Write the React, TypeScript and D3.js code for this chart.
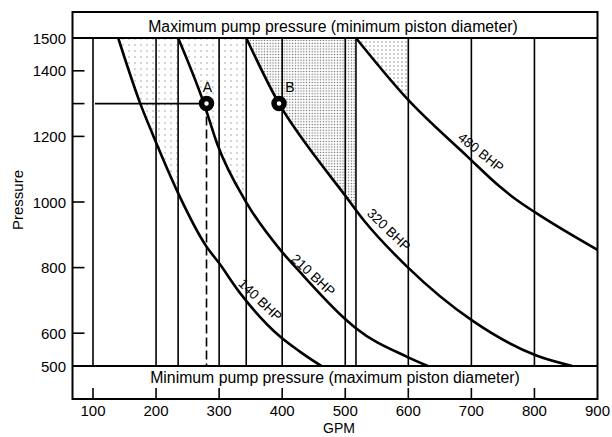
import React from "react";
import * as d3 from "d3";

// pump operating chart: pressure vs flow rate with constant-BHP curves
const gpmTicks = [100, 200, 300, 400, 500, 600, 700, 800, 900];
const pressureTickMarks = [500, 600, 800, 1000, 1200, 1300, 1400, 1500];
const pressureLabels = [500, 600, 800, 1000, 1200, 1400, 1500];
const gridGpm = [100, 200, 235, 300, 343, 400, 500, 517, 600, 700, 800];

const bhp140 = [[140, 1500], [175, 1300], [196, 1200], [209, 1140], [235, 1027], [280, 864], [299, 816], [333, 723], [397, 589], [428, 544], [462, 500]];
const bhp210 = [[235, 1500], [276, 1300], [297, 1177], [344, 996], [397, 854], [428, 787], [499, 645], [517, 615], [598, 528], [631, 500]];
const bhp320 = [[343, 1500], [395, 1300], [452, 1140], [497, 1027], [529, 945], [598, 803], [701, 639], [803, 532], [860, 500]];
const bhp480 = [[517, 1500], [598, 1315], [693, 1140], [745, 1047], [772, 1006], [803, 966], [900, 854]];

const curves = [
  { name: "140 BHP", pts: bhp140, limit: 235, pattern: "sparse", lx: 365, ly: 701, angle: 44 },
  { name: "210 BHP", pts: bhp210, limit: 343, pattern: "sparse", lx: 449, ly: 777, angle: 43 },
  { name: "320 BHP", pts: bhp320, limit: 517, pattern: "dense", lx: 569, ly: 915, angle: 44 },
  { name: "480 BHP", pts: bhp480, limit: 598, pattern: "medium", lx: 715, ly: 1151, angle: 39 },
];

const pointA = { label: "A", gpm: 280, p: 1300 };
const pointB = { label: "B", gpm: 395, p: 1300 };

const W = 612;
const H = 437;
const frameTop = 12;
const frameBottom = 399;
const font = "'Liberation Sans', Arial, Helvetica, sans-serif";

const App: React.FC = () => {
  const x = d3.scaleLinear().domain([67.5, 900]).range([72.5, 597.5]);
  const y = d3.scaleLinear().domain([500, 1500]).range([366, 38]);
  const [x0, x1] = x.range();

  const line = d3
    .line<number[]>()
    .x((d) => x(d[0]))
    .y((d) => y(d[1]))
    .curve(d3.curveMonotoneX);

  const area = d3
    .area<number[]>()
    .x((d) => x(d[0]))
    .y0(y(1500))
    .y1((d) => y(d[1]))
    .curve(d3.curveMonotoneX);

  return (
    <svg
      width={W}
      height={H}
      style={{ position: "absolute", left: 0, top: 0, background: "#fff" }}
      fontFamily={font}
    >
      <defs>
        <pattern id="dense" width="2.8" height="2.8" patternUnits="userSpaceOnUse">
          <circle cx="1.4" cy="1.4" r="0.7" fill="#666" />
        </pattern>
        <pattern id="medium" width="4" height="4" patternUnits="userSpaceOnUse">
          <circle cx="2" cy="2" r="0.65" fill="#777" />
        </pattern>
        <pattern id="sparse" width="6" height="6" patternUnits="userSpaceOnUse">
          <circle cx="3" cy="3" r="0.65" fill="#888" />
        </pattern>
        {curves.map((c, i) => (
          <clipPath id={`clip${i}`} key={i}>
            <rect
              x={x(c.pts[0][0])}
              y={y(1500)}
              width={x(c.limit) - x(c.pts[0][0])}
              height={y(500) - y(1500)}
            />
          </clipPath>
        ))}
      </defs>

      {/* stippled operating zones */}
      {curves.map((c, i) => (
        <path
          key={i}
          d={area(c.pts) || ""}
          fill={`url(#${c.pattern})`}
          clipPath={`url(#clip${i})`}
        />
      ))}

      {/* vertical grid lines */}
      {gridGpm.map((g) => (
        <line key={g} x1={x(g)} x2={x(g)} y1={y(1500)} y2={y(500)} stroke="#000" strokeWidth={1.6} />
      ))}

      {/* frame and bands */}
      <rect x={x0} y={frameTop} width={x1 - x0} height={frameBottom - frameTop} fill="none" stroke="#000" strokeWidth={2} />
      <line x1={x0} x2={x1} y1={y(1500)} y2={y(1500)} stroke="#000" strokeWidth={2} />
      <line x1={x0} x2={x1} y1={y(500)} y2={y(500)} stroke="#000" strokeWidth={2} />
      <text x={333} y={31.5} textAnchor="middle" fontSize={15.8}>
        Maximum pump pressure (minimum piston diameter)
      </text>
      <text x={335} y={383} textAnchor="middle" fontSize={15.8}>
        Minimum pump pressure (maximum piston diameter)
      </text>

      {/* y ticks */}
      {pressureTickMarks.map((p) => (
        <line key={p} x1={x0} x2={x0 + 12} y1={y(p)} y2={y(p)} stroke="#000" strokeWidth={1.6} />
      ))}
      {pressureLabels.map((p) => (
        <text key={p} x={66} y={y(p)} textAnchor="end" dominantBaseline="central" fontSize={15}>
          {p}
        </text>
      ))}
      <text
        transform={`translate(17,200) rotate(-90)`}
        textAnchor="middle"
        dominantBaseline="central"
        fontSize={15}
      >
        Pressure
      </text>

      {/* x ticks */}
      {gpmTicks.slice(0, -1).map((g) => (
        <line key={g} x1={x(g)} x2={x(g)} y1={frameBottom} y2={frameBottom - 11} stroke="#000" strokeWidth={1.6} />
      ))}
      {gpmTicks.map((g) => (
        <text key={g} x={x(g)} y={416} textAnchor="middle" fontSize={15}>
          {g}
        </text>
      ))}
      <text x={339} y={433} textAnchor="middle" fontSize={14}>
        GPM
      </text>

      {/* reference lines for point A */}
      <line x1={x(103)} x2={x(pointA.gpm)} y1={y(pointA.p)} y2={y(pointA.p)} stroke="#000" strokeWidth={1.6} />
      <line
        x1={x(pointA.gpm)}
        x2={x(pointA.gpm)}
        y1={y(pointA.p)}
        y2={y(500)}
        stroke="#000"
        strokeWidth={1.6}
        strokeDasharray="9,4"
      />

      {/* BHP curves */}
      {curves.map((c) => (
        <path key={c.name} d={line(c.pts) || ""} fill="none" stroke="#000" strokeWidth={2.6} />
      ))}
      {curves.map((c) => (
        <text
          key={c.name}
          transform={`translate(${x(c.lx)},${y(c.ly)}) rotate(${c.angle})`}
          textAnchor="middle"
          dominantBaseline="central"
          fontSize={13.5}
        >
          {c.name}
        </text>
      ))}

      {/* operating points */}
      {[pointA, pointB].map((pt) => (
        <g key={pt.label}>
          <circle cx={x(pt.gpm)} cy={y(pt.p)} r={5} fill="#fff" stroke="#000" strokeWidth={5.5} />
          <text
            x={x(pt.gpm) + (pt.label === "B" ? 11 : 1)}
            y={y(pt.p) - 17}
            textAnchor="middle"
            dominantBaseline="central"
            fontSize={14}
          >
            {pt.label}
          </text>
        </g>
      ))}
    </svg>
  );
};

export default App;
